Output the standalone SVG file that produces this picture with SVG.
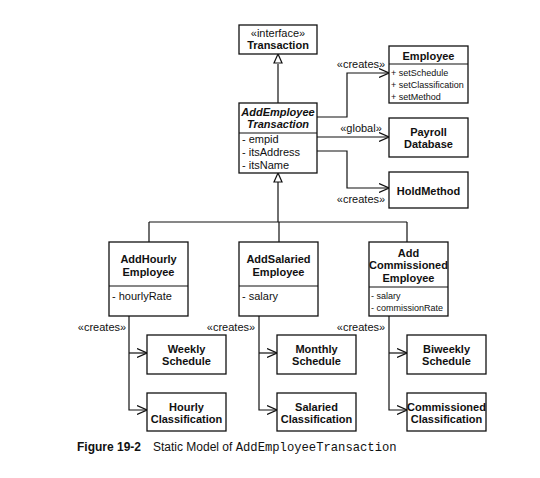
<svg xmlns="http://www.w3.org/2000/svg" width="540" height="478" viewBox="0 0 540 478">
<style>
.b{fill:#fff;stroke:#111;stroke-width:1.3}
.d{stroke:#111;stroke-width:1.1}
.n{font-family:"Liberation Sans",Arial,sans-serif;font-size:11px;font-weight:bold;fill:#111;text-anchor:middle}
.a{font-family:"Liberation Sans",Arial,sans-serif;font-size:11px;fill:#111}
.s{font-family:"Liberation Sans",Arial,sans-serif;font-size:9px;fill:#111}
.l{font-family:"Liberation Sans",Arial,sans-serif;font-size:11px;fill:#111;text-anchor:middle}
.c{fill:none;stroke:#111;stroke-width:1.2}
</style>
<defs>
<marker id="open" viewBox="0 0 10 10" refX="10" refY="5" markerWidth="10" markerHeight="10" markerUnits="userSpaceOnUse" orient="auto">
<path d="M0,0.5 L10,5 L0,9.5" fill="none" stroke="#111" stroke-width="1.2"/>
</marker>
</defs>
<rect width="540" height="478" fill="#fff"/>
<g id="connectors">
<path class="c" d="M278,64 V103"/>
<path d="M278,54 L274,63 L282,63 Z" fill="#fff" stroke="#111" stroke-width="1.2"/>
<path class="c" d="M278,182 V222 M149,222 H407 M149,222 V242 M279,222 V242 M407,222 V242"/>
<path d="M278,173 L274,182 L282,182 Z" fill="#fff" stroke="#111" stroke-width="1.2"/>
<path class="c" d="M317,117 H347 V73 H389" marker-end="url(#open)"/>
<path class="c" d="M317,137 H389" marker-end="url(#open)"/>
<path class="c" d="M317,151 H347 V188 H389" marker-end="url(#open)"/>
<path class="c" d="M129,316 V410 H147" marker-end="url(#open)"/>
<path class="c" d="M129,353 H147" marker-end="url(#open)"/>
<path class="c" d="M259,316 V410 H277" marker-end="url(#open)"/>
<path class="c" d="M259,353 H277" marker-end="url(#open)"/>
<path class="c" d="M389,316 V410 H407" marker-end="url(#open)"/>
<path class="c" d="M389,353 H407" marker-end="url(#open)"/>
<text class="l" x="361" y="68">«creates»</text>
<text class="l" x="361" y="132">«global»</text>
<text class="l" x="361" y="203">«creates»</text>
<text class="l" x="102" y="331">«creates»</text>
<text class="l" x="231" y="331">«creates»</text>
<text class="l" x="361" y="331">«creates»</text>
</g>
<g id="Transaction">
<rect class="b" x="239" y="25" width="78" height="29"/>
<text class="l" x="278" y="37">«interface»</text>
<text class="n" x="278" y="49">Transaction</text>
</g>
<g id="AddEmployeeTransaction">
<rect class="b" x="239" y="103" width="78" height="70"/>
<line class="d" x1="239" y1="133" x2="317" y2="133"/>
<text class="n" x="278" y="116" font-style="italic">AddEmployee</text>
<text class="n" x="278" y="128" font-style="italic">Transaction</text>
<text class="a" x="242" y="143">- empid</text>
<text class="a" x="242" y="156">- itsAddress</text>
<text class="a" x="242" y="169">- itsName</text>
</g>
<g id="Employee">
<rect class="b" x="389" y="46" width="79" height="57"/>
<line class="d" x1="389" y1="64" x2="468" y2="64"/>
<text class="n" x="428.5" y="60">Employee</text>
<text class="s" x="391" y="76">+ setSchedule</text>
<text class="s" x="391" y="88">+ setClassification</text>
<text class="s" x="391" y="100">+ setMethod</text>
</g>
<g id="PayrollDatabase">
<rect class="b" x="389" y="118" width="79" height="39"/>
<text class="n" x="428.5" y="136">Payroll</text>
<text class="n" x="428.5" y="148">Database</text>
</g>
<g id="HoldMethod">
<rect class="b" x="389" y="172" width="79" height="36"/>
<text class="n" x="428.5" y="195">HoldMethod</text>
</g>
<g id="AddHourlyEmployee">
<rect class="b" x="109" y="242" width="79" height="74"/>
<line class="d" x1="109" y1="286" x2="188" y2="286"/>
<text class="n" x="148.5" y="263">AddHourly</text>
<text class="n" x="148.5" y="276">Employee</text>
<text class="a" x="112" y="300">- hourlyRate</text>
</g>
<g id="AddSalariedEmployee">
<rect class="b" x="239" y="242" width="79" height="74"/>
<line class="d" x1="239" y1="286" x2="318" y2="286"/>
<text class="n" x="278.5" y="263">AddSalaried</text>
<text class="n" x="278.5" y="276">Employee</text>
<text class="a" x="242" y="300">- salary</text>
</g>
<g id="AddCommissionedEmployee">
<rect class="b" x="369" y="242" width="79" height="74"/>
<line class="d" x1="369" y1="287" x2="448" y2="287"/>
<text class="n" x="408.5" y="257">Add</text>
<text class="n" x="408.5" y="269" font-size="10.2">Commissioned</text>
<text class="n" x="408.5" y="282">Employee</text>
<text class="s" x="371" y="299">- salary</text>
<text class="s" x="371" y="311">- commissionRate</text>
</g>
<g id="WeeklySchedule">
<rect class="b" x="147" y="335" width="79" height="39"/>
<text class="n" x="186.5" y="353">Weekly</text>
<text class="n" x="186.5" y="365">Schedule</text>
</g>
<g id="HourlyClassification">
<rect class="b" x="147" y="393" width="79" height="38"/>
<text class="n" x="186.5" y="411">Hourly</text>
<text class="n" x="186.5" y="423">Classification</text>
</g>
<g id="MonthlySchedule">
<rect class="b" x="277" y="335" width="79" height="39"/>
<text class="n" x="316.5" y="353">Monthly</text>
<text class="n" x="316.5" y="365">Schedule</text>
</g>
<g id="SalariedClassification">
<rect class="b" x="277" y="393" width="79" height="38"/>
<text class="n" x="316.5" y="411">Salaried</text>
<text class="n" x="316.5" y="423">Classification</text>
</g>
<g id="BiweeklySchedule">
<rect class="b" x="407" y="335" width="79" height="39"/>
<text class="n" x="446.5" y="353">Biweekly</text>
<text class="n" x="446.5" y="365">Schedule</text>
</g>
<g id="CommissionedClassification">
<rect class="b" x="407" y="393" width="79" height="38"/>
<text class="n" x="446.5" y="411" font-size="10.2">Commissioned</text>
<text class="n" x="446.5" y="423">Classification</text>
</g>
<g id="caption">
<text x="77" y="451" font-family="'Liberation Sans',Arial,sans-serif" font-size="12" font-weight="bold" fill="#111">Figure 19-2</text>
<text x="153" y="451" font-family="'Liberation Sans',Arial,sans-serif" font-size="12" fill="#111">Static Model of <tspan font-family="'Liberation Mono','Courier New',monospace" font-size="12.2">AddEmployeeTransaction</tspan></text>
</g>
</svg>
